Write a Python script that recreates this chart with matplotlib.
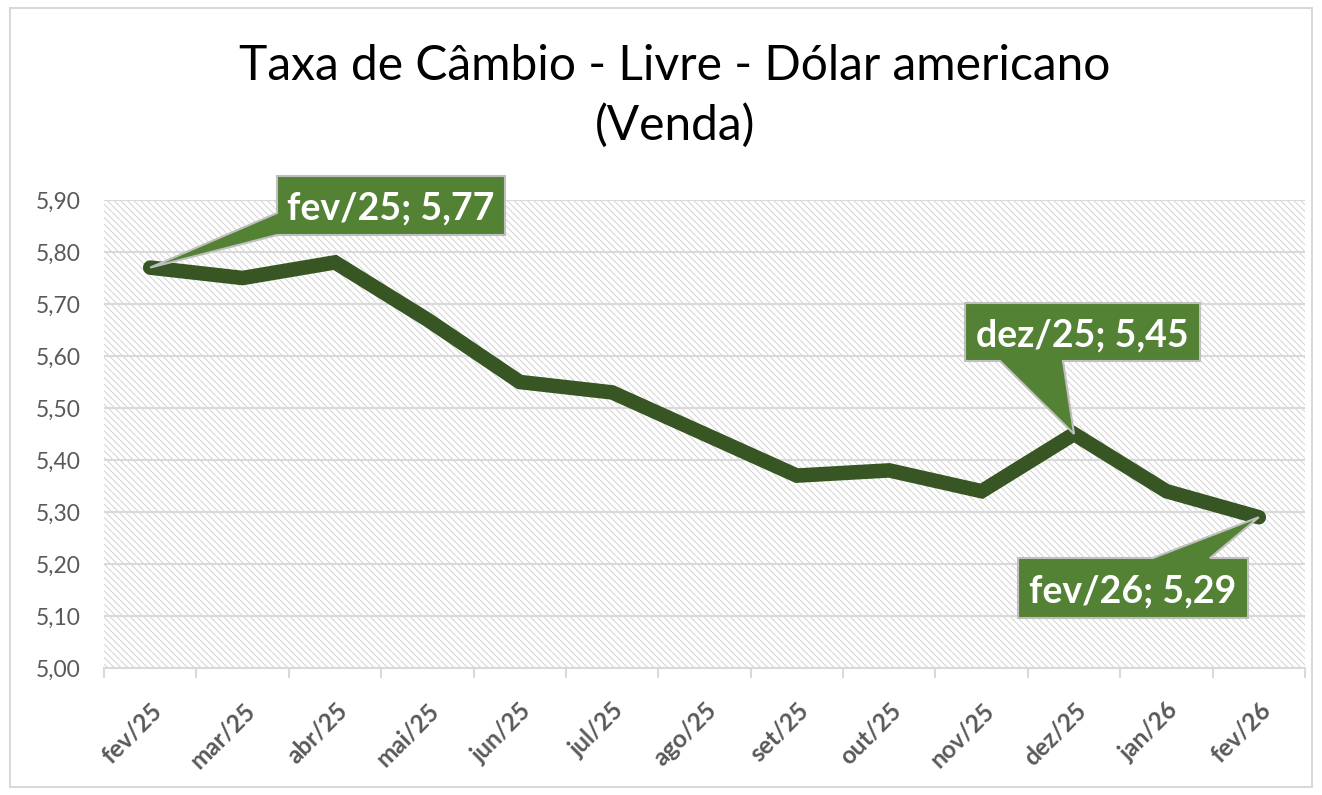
import matplotlib
matplotlib.use("Agg")
import matplotlib.pyplot as plt
from matplotlib.patches import Rectangle, Polygon

plt.rcParams['font.family'] = ['Lato', 'DejaVu Sans']
plt.rcParams['hatch.linewidth'] = 0.7

months = ["fev/25", "mar/25", "abr/25", "mai/25", "jun/25", "jul/25", "ago/25",
          "set/25", "out/25", "nov/25", "dez/25", "jan/26", "fev/26"]
rates = [5.77, 5.75, 5.78, 5.67, 5.55, 5.53, 5.45, 5.37, 5.38, 5.34, 5.45, 5.34, 5.29]
yticks = [5.00, 5.10, 5.20, 5.30, 5.40, 5.50, 5.60, 5.70, 5.80, 5.90]
labeled = [0, 10, 12]

W, H = 1322, 795
fig = plt.figure(figsize=(W / 100, H / 100), dpi=100)
fig.patch.set_facecolor('white')
fig.add_artist(Rectangle((10 / W, 8 / H), (W - 20) / W, (H - 16) / H,
                         transform=fig.transFigure, fill=False,
                         edgecolor='#d9d9d9', lw=1.5))

ax = fig.add_axes([104 / W, 1 - 668 / H, (1305 - 104) / W, (668 - 200) / H])
ax.add_patch(Rectangle((0, 0), 1, 1, transform=ax.transAxes, facecolor='white',
                       edgecolor='#d2d2d2', hatch='\\\\\\\\\\', lw=0, zorder=0))

x = list(range(len(months)))
ax.plot(x, rates, color='#375623', lw=10.5, solid_capstyle='round',
        solid_joinstyle='miter', zorder=3)

ax.set_xlim(-0.5, len(months) - 0.5)
ax.set_ylim(yticks[0], yticks[-1])
ax.set_yticks(yticks)
ax.set_yticklabels([f"{v:.2f}".replace('.', ',') for v in yticks],
                   fontsize=16.5, color='#595959')
ax.set_xticks(x)
ax.set_xticklabels(months, rotation=45, ha='right', rotation_mode='anchor',
                   fontsize=17.5, fontweight='bold', color='#595959')
ax.set_xticks([i - 0.5 for i in range(len(months) + 1)], minor=True)
ax.tick_params(axis='x', which='major', length=0, pad=22)
ax.tick_params(axis='x', which='minor', length=7, width=1.5, color='#d9d9d9')
ax.tick_params(axis='y', length=0, pad=17)
ax.grid(axis='y', color='#d9d9d9', lw=1.5, zorder=1)
ax.set_axisbelow(True)
for s in ['top', 'right', 'left']:
    ax.spines[s].set_visible(False)
ax.spines['bottom'].set_color('#d9d9d9')
ax.spines['bottom'].set_linewidth(1.5)

fig.text(675 / W, 1 - 80 / H, "Taxa de Câmbio - Livre - Dólar americano",
         ha='center', va='baseline', fontsize=34.5, color='#000000')
fig.text(675 / W, 1 - 140 / H, "(Venda)",
         ha='center', va='baseline', fontsize=34.5, color='#000000')

# callout boxes: (left, top, right, bottom) in pixels from top-left, wedge base
boxes = {
    0: ((277, 176, 505, 235), [(277, 235), None, (277, 213)]),
    10: ((965, 303, 1200, 361), [(1063, 361), None, (1000, 361)]),
    12: ((1018, 558, 1248, 618), [(1153, 558), None, (1210, 558)]),
}
fig.canvas.draw()
for i in labeled:
    (l, t, r, b), wedge = boxes[i]
    tx, ty = ax.transData.transform((x[i], rates[i]))
    tip = (tx, H - ty)
    w = [tip if p is None else p for p in wedge]
    if i == 0:
        pts = [(l, t), (r, t), (r, b), (l, b)] + w
    elif i == 10:
        pts = [(l, t), (r, t), (r, b)] + w + [(l, b)]
    else:
        pts = [(l, t)] + w + [(r, t), (r, b), (l, b)]
    pts = [(px / W, 1 - py / H) for px, py in pts]
    fig.add_artist(Polygon(pts, closed=True, transform=fig.transFigure,
                           fc='#548235', ec='#bfbfbf', lw=1.5, zorder=5))
    txt = f"{months[i]}; {rates[i]:.2f}".replace('.', ',')
    fig.text((l + r) / 2 / W, 1 - (t + b) / 2 / H, txt, ha='center', va='center_baseline',
             fontsize=27, fontweight='bold', color='white', zorder=6)

fig.savefig('out.png', dpi=100, facecolor='white')
